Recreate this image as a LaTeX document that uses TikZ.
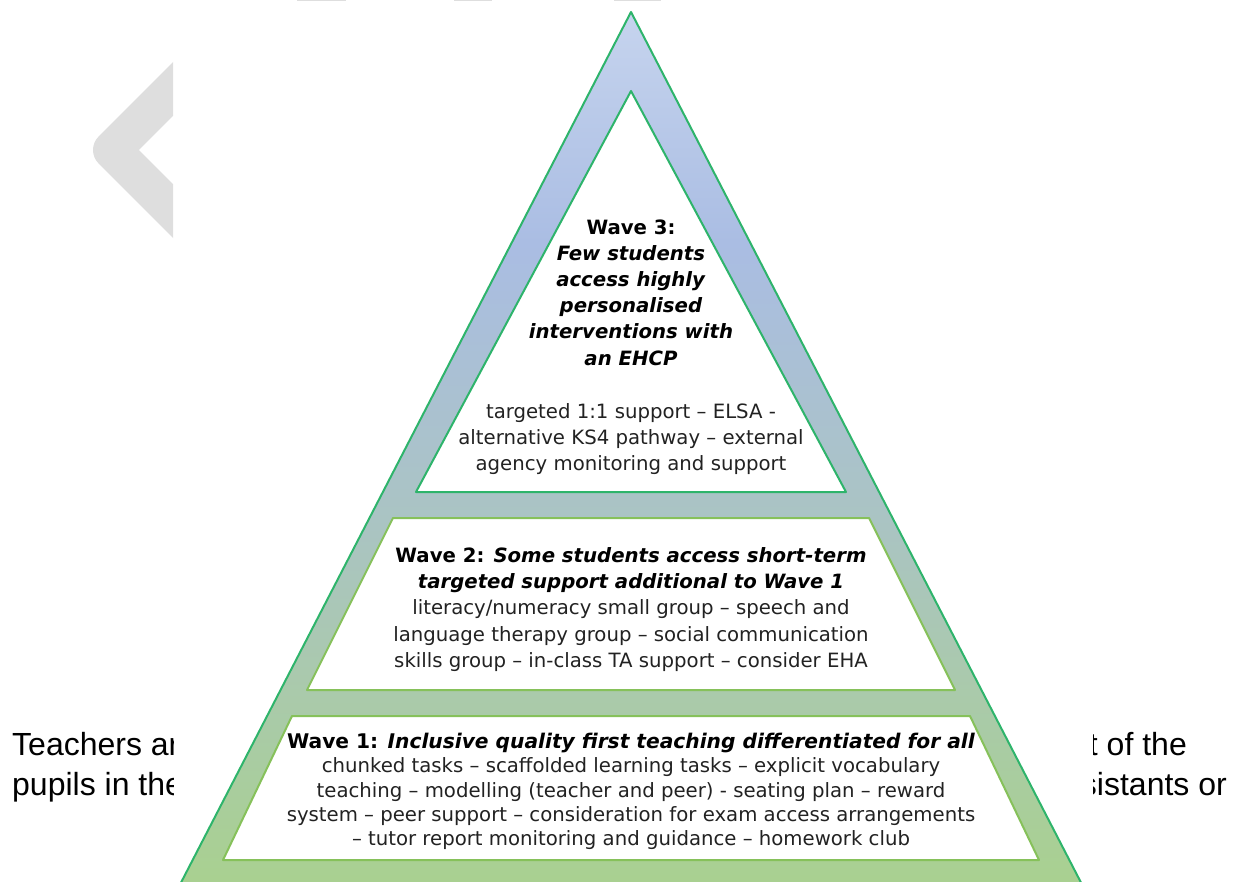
\documentclass[tikz,border=0pt]{standalone}
\usepackage{fontspec}
\newfontfamily\wavefont{DejaVu Sans}
\newfontfamily\pagefont{Liberation Sans}

\definecolor{plight}{HTML}{C6D4EE}
\definecolor{pblue}{HTML}{AABDE3}
\definecolor{pteal}{HTML}{AAC4C2}
\definecolor{pgreen}{HTML}{A9D18E}
\definecolor{edgegreen}{HTML}{2EB46B}
\definecolor{boxgreen}{HTML}{86C15A}
\definecolor{chevgrey}{HTML}{DEDEDE}
\definecolor{bodygrey}{HTML}{222222}

\pgfdeclareverticalshading{pyramid}{100bp}{color(0bp)=(pgreen); color(25bp)=(pgreen);
  color(46bp)=(pteal); color(62bp)=(pblue); color(75bp)=(plight); color(100bp)=(plight)}

\tikzset{
  wavebox/.style={draw=boxgreen, line width=2pt, fill=white, line join=round},
  wavetext/.style={font=\wavefont\fontsize{19.7}{26.2}\selectfont, align=center,
    text=bodygrey, inner sep=0pt},
  pagetext/.style={font=\pagefont\fontsize{32}{40}\selectfont, inner sep=0pt},
}

\begin{document}
\begin{tikzpicture}[x=1pt,y=-1pt]
    \useasboundingbox (0,0) rectangle (1237,882);

    % bits of the page around the figure
    \foreach \a/\b in {297/346, 454/492, 614/661} {
            \fill[chevgrey] (\a,0) rectangle (\b,1.5);
        }
    \begin{scope}
        \clip (0,0) rectangle (173,882);
        \draw[chevgrey, line width=38pt, line join=round, line cap=round]
            (190,72) -- (112,150) -- (190,228);
        \node[pagetext, anchor=base west] (teach) at (12,755) {Teachers ar};
        \node[pagetext, anchor=base west] (pupils) at (12,795) {pupils in the};
    \end{scope}
    \begin{scope}
        \clip (1093,0) rectangle (1237,882);
        \node[pagetext, anchor=base east] (ofthe) at (1187,755) {t of the};
        \node[pagetext, anchor=base east] (assist) at (1227,795) {sistants or};
    \end{scope}

    % pyramid
    \shade[shading=pyramid] (631,12) -- (172,900) -- (1090,900) -- cycle;
    \draw[edgegreen, line width=2pt, line join=round] (631,12) -- (172,900) -- (1090,900) -- cycle;

    % the three waves
    \filldraw[wavebox, draw=edgegreen] (631,91) -- (846,492) -- (416,492) -- cycle;
    \filldraw[wavebox] (393,518) -- (869,518) -- (955,690) -- (307,690) -- cycle;
    \filldraw[wavebox] (292,716) -- (970,716) -- (1039,860) -- (223,860) -- cycle;

    \node[wavetext, text=black] (w3head) at (631,292.5) {\textbf{Wave 3:}\\
        \textbf{\textit{Few students}}\\ \textbf{\textit{access highly}}\\
        \textbf{\textit{personalised}}\\ \textbf{\textit{interventions with}}\\
        \textbf{\textit{an EHCP}}};
    \node[wavetext] (w3body) at (631,439) {targeted 1:1 support – ELSA -\\
        alternative KS4 pathway – external\\ agency monitoring and support};

    \node[wavetext] (w2text) at (631,609.5) {%
        \textcolor{black}{\textbf{Wave 2: \textit{Some students access short-term}}}\\
        \textcolor{black}{\textbf{\textit{targeted support additional to Wave 1}}}\\
        literacy/numeracy small group – speech and\\
        language therapy group – social communication\\
        skills group – in-class TA support – consider EHA};

    \node[wavetext, font=\wavefont\fontsize{19.7}{24.2}\selectfont] (w1text) at (631,791.5) {%
        \textcolor{black}{\fontsize{20.2}{24.2}\selectfont\textbf{Wave 1: \textit{Inclusive quality first teaching differentiated for all}}}\\
        chunked tasks – scaffolded learning tasks – explicit vocabulary\\
        teaching – modelling (teacher and peer) - seating plan – reward\\
        system – peer support – consideration for exam access arrangements\\
        – tutor report monitoring and guidance – homework club};
\end{tikzpicture}
\end{document}
